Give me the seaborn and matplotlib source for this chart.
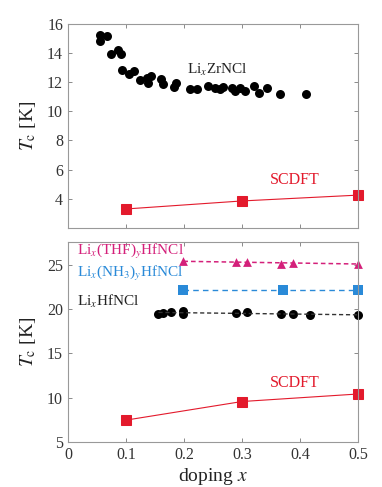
import numpy as np
import pandas as pd
import matplotlib.pyplot as plt
import seaborn as sns

# Li_xZrNCl measured Tc (top panel)
zr_x = [0.055, 0.055, 0.068, 0.075, 0.087, 0.091, 0.093, 0.106, 0.113, 0.125,
        0.136, 0.138, 0.144, 0.160, 0.164, 0.183, 0.187, 0.210, 0.222, 0.242,
        0.253, 0.262, 0.268, 0.282, 0.288, 0.297, 0.305, 0.321, 0.330, 0.343,
        0.366, 0.410]
zr_tc = [15.25, 14.85, 15.18, 13.9, 14.2, 13.9, 12.85, 12.55, 12.8, 12.15,
         12.28, 11.93, 12.43, 12.2, 11.86, 11.7, 11.93, 11.52, 11.52, 11.75,
         11.6, 11.5, 11.7, 11.6, 11.36, 11.6, 11.36, 11.75, 11.25, 11.6,
         11.2, 11.18]

# SCDFT for ZrNCl
scdft_zr_x = [0.1, 0.3, 0.5]
scdft_zr_tc = [3.3, 3.85, 4.25]

# Li_x(THF)_yHfNCl
thf_x = [0.199, 0.29, 0.308, 0.368, 0.388, 0.5]
thf_tc = [25.45, 25.3, 25.3, 25.1, 25.25, 25.15]

# Li_x(NH3)_yHfNCl
nh3_x = [0.198, 0.37, 0.5]
nh3_tc = [22.2, 22.2, 22.2]

# Li_xHfNCl
hf_x = [0.156, 0.164, 0.177, 0.198, 0.198, 0.29, 0.308, 0.368, 0.388, 0.418, 0.5]
hf_tc = [19.5, 19.55, 19.7, 19.75, 19.5, 19.55, 19.65, 19.5, 19.45, 19.3, 19.35]

# SCDFT for HfNCl
scdft_hf_x = [0.1, 0.3, 0.5]
scdft_hf_tc = [7.47, 9.57, 10.42]

MAGENTA = '#d4207a'
BLUE = '#2a8ad8'
RED = '#e31a2c'

sns.set_style('ticks')
plt.rcParams['font.family'] = ['Liberation Serif', 'DejaVu Serif']
plt.rcParams['mathtext.fontset'] = 'stix'

fig = plt.figure(figsize=(3.82, 4.87), dpi=100)
ax1 = fig.add_axes([0.178, 0.532, 0.759, 0.419])
ax2 = fig.add_axes([0.178, 0.0924, 0.759, 0.411])

# top panel
sns.scatterplot(x=zr_x, y=zr_tc, ax=ax1, color='black', s=42, linewidth=0)
sns.lineplot(x=scdft_zr_x, y=scdft_zr_tc, ax=ax1, color=RED, marker='s', markersize=7,
             markeredgecolor=RED, linewidth=0.8, clip_on=False)
ax1.text(0.205, 12.85, r'Li$_x$ZrNCl', fontsize=11, color='#222222', va='center')
ax1.text(0.348, 5.3, 'SCDFT', fontsize=11.5, color=RED, va='center')

# bottom panel
sns.regplot(x=thf_x, y=thf_tc, ax=ax2, scatter=False, ci=None, color=MAGENTA,
            line_kws=dict(ls=(0, (3, 2)), lw=1.1))
sns.scatterplot(x=thf_x, y=thf_tc, ax=ax2, color=MAGENTA, marker='^', s=40, linewidth=0,
                clip_on=False)

sns.lineplot(x=nh3_x, y=nh3_tc, ax=ax2, color=BLUE, linestyle=(0, (4, 3)), lw=1.0)
sns.scatterplot(x=nh3_x, y=nh3_tc, ax=ax2, color=BLUE, marker='s', s=50, linewidth=0,
                clip_on=False)

sns.regplot(x=hf_x, y=hf_tc, ax=ax2, scatter=False, ci=None, color='#333333',
            line_kws=dict(ls=(0, (3, 2)), lw=1.0))
sns.scatterplot(x=hf_x, y=hf_tc, ax=ax2, color='black', s=42, linewidth=0, clip_on=False)

sns.lineplot(x=scdft_hf_x, y=scdft_hf_tc, ax=ax2, color=RED, marker='s', markersize=7,
             markeredgecolor=RED, linewidth=0.8, clip_on=False)

ax2.text(0.015, 26.5, r'Li$_x$(THF)$_y$HfNCl', fontsize=11, color=MAGENTA, va='center')
ax2.text(0.015, 24.05, r'Li$_x$(NH$_3$)$_y$HfNCl', fontsize=11, color=BLUE, va='center')
ax2.text(0.015, 20.9, r'Li$_x$HfNCl', fontsize=11, color='#222222', va='center')
ax2.text(0.348, 11.7, 'SCDFT', fontsize=11.5, color=RED, va='center')

for ax in (ax1, ax2):
    ax.set_xlim(0, 0.5)
    ax.set_xticks([0, 0.1, 0.2, 0.3, 0.4, 0.5])
    ax.tick_params(direction='in', top=True, right=True, length=3, width=0.6,
                   color='#777777', labelcolor='#333333', labelsize=11.5)
    for sp in ax.spines.values():
        sp.set_color('#999999')
        sp.set_linewidth(0.8)
    ax.set_ylabel(r'$T_\mathrm{c}$ [K]', fontsize=14, color='#222222')

ax1.set_ylim(2, 16)
ax1.set_yticks([2, 4, 6, 8, 10, 12, 14, 16])
ax1.set_yticklabels(['', '4', '6', '8', '10', '12', '14', '16'])
ax1.set_xticklabels([])

ax2.set_ylim(5, 27.6)
ax2.set_yticks([5, 10, 15, 20, 25])
ax2.set_xticklabels(['0', '0.1', '0.2', '0.3', '0.4', '0.5'])
ax2.set_xlabel(r'doping $x$', fontsize=14, color='#222222', labelpad=2)

ax1.yaxis.set_label_coords(-0.105, 0.5)
ax2.yaxis.set_label_coords(-0.105, 0.5)

fig.savefig('out.png', dpi=100)
